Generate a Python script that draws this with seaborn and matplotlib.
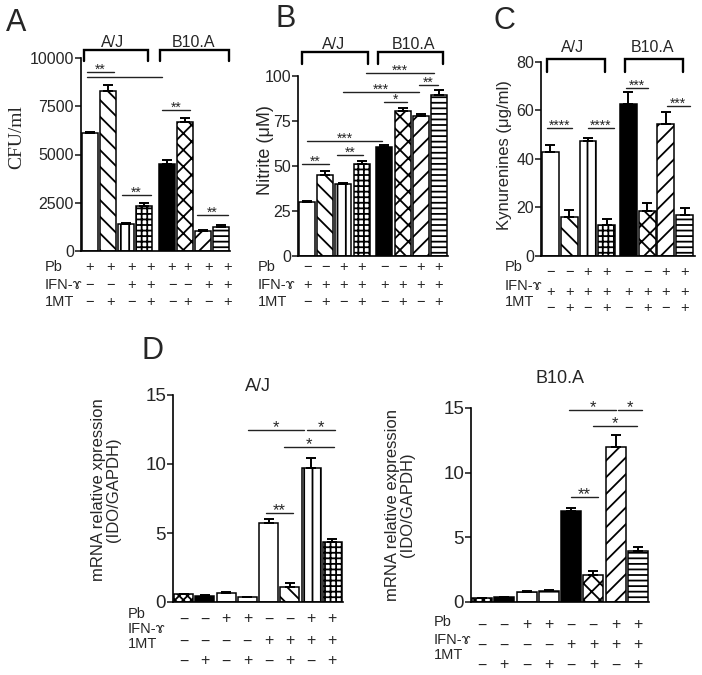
import numpy as np
import pandas as pd
import matplotlib
matplotlib.use('Agg')
import matplotlib.pyplot as plt
import matplotlib.transforms as mtransforms
import seaborn as sns

sns.set_style('ticks')
plt.rcParams['font.family'] = ['Liberation Sans', 'DejaVu Sans']
plt.rcParams['hatch.linewidth'] = 1.3
plt.rcParams['axes.edgecolor'] = 'black'

#%% data
cfu = [6100, 8300, 1400, 2330, 4500, 6680, 1050, 1250]
cfu_err = [60, 300, 50, 150, 200, 200, 60, 80]

nitrite = [30.2, 45, 40, 51, 60.4, 80.5, 77.8, 89.4]
nitrite_err = [0.6, 2, 0.3, 1.8, 1.2, 2, 1.3, 3]

kyn = [43, 16, 47.4, 12.8, 62.5, 18.7, 54.4, 16.9]
kyn_err = [2.8, 3, 1.1, 2.3, 5.3, 3, 5, 2.8]

ido_aj = [0.55, 0.45, 0.65, 0.33, 5.7, 1.1, 9.7, 4.35]
ido_aj_err = [0.05, 0.03, 0.05, 0.05, 0.3, 0.25, 0.7, 0.25]

ido_b10 = [0.28, 0.35, 0.77, 0.85, 7.0, 2.1, 12.0, 3.95]
ido_b10_err = [0.02, 0.03, 0.05, 0.05, 0.27, 0.28, 0.95, 0.3]

# treatment rows under the bars
M = '\u2212'
pb_A = ['+'] * 8
ifn_A = [M, M, '+', '+', M, M, '+', '+']
pb_BC = [M, M, '+', '+'] * 2
ifn_BC = ['+'] * 8
pb_D = [M, M, '+', '+'] * 2
ifn_D = [M] * 4 + ['+'] * 4
mt_all = [M, '+'] * 4
row_names = ['Pb', 'IFN-\u0264', '1MT']

#%% styles
colors_abc = ['white', 'white', 'white', 'white', 'black', 'white', 'white', 'white']
hatch_abc = ['', '\\\\', '||', '+++', '', 'xx', '//', '---']
colors_daj = ['white', 'black', 'white', 'white', 'white', 'white', 'white', 'white']
hatch_daj = ['xxxx', '', '-', '-', '', '\\\\', '||', '+++']
colors_db10 = ['white', 'black', 'white', 'white', 'black', 'white', 'white', 'white']
hatch_db10 = ['xxxx', '', '-', '-', '', 'xx', '//', '---']

W, H = 702, 675
def fx(px):
    return px / W
def fy(py):
    return 1 - py / H

fig = plt.figure(figsize=(7.02, 6.75), dpi=100)

def add_ax(l, t, r, b):
    return fig.add_axes([fx(l), fy(b), fx(r) - fx(l), fy(t) - fy(b)])

def draw_bars(ax, pos, vals, errs, colors, hatches, width):
    df = pd.DataFrame({'pos': pos, 'val': vals})
    sns.barplot(data=df, x='pos', y='val', native_scale=True, width=width,
                color='white', edgecolor='black', linewidth=1.1,
                errorbar=None, ax=ax)
    for p, c, h in zip(ax.patches, colors, hatches):
        p.set_facecolor(c)
        p.set_hatch(h)
        p.set_edgecolor('black')
    ax.errorbar(pos, vals, yerr=[np.zeros(len(errs)), errs], fmt='none',
                ecolor='black', elinewidth=1.4, capsize=3.5, capthick=1.4, zorder=3)

def style(ax, xlim, ylim, yticks, fs):
    ax.set_xlim(*xlim)
    ax.set_ylim(*ylim)
    ax.set_yticks(yticks)
    ax.set_xticks([])
    ax.set_xlabel('')
    ax.set_ylabel('')
    sns.despine(ax=ax)
    for s in ['left', 'bottom']:
        ax.spines[s].set_linewidth(1.2)
    ax.tick_params(axis='y', length=4, width=1.2, labelsize=fs, pad=1)

def sign_rows(ax, xs, rows, ys, fs):
    tr = mtransforms.blended_transform_factory(ax.transData, fig.transFigure)
    for row, py in zip(rows, ys):
        for x, s in zip(xs, row):
            ax.text(x, fy(py), s, transform=tr, ha='center', va='center', fontsize=fs)

def row_labels(px, ys, fs):
    for name, py in zip(row_names, ys):
        fig.text(fx(px), fy(py), name, ha='left', va='center', fontsize=fs)

def bracket(ax, x0, x1, ytop, ybot):
    ax.plot([x0, x0, x1, x1], [ybot, ytop, ytop, ybot], color='black', lw=1.7,
            clip_on=False, solid_joinstyle='miter')

def sig(ax, x0, x1, y, stars, fs=10):
    ax.plot([x0, x1], [y, y], color='#222222', lw=1, clip_on=False)
    if stars:
        ax.annotate(stars, ((x0 + x1) / 2, y), xytext=(0, -1.5), textcoords='offset points',
                    ha='center', va='baseline', fontsize=fs, annotation_clip=False)

#%% Panel A
pos_A = [0, 1, 2, 3, 4.3, 5.3, 6.3, 7.3]
axA = add_ax(81, 58, 230, 251)
draw_bars(axA, pos_A, cfu, cfu_err, colors_abc, hatch_abc, 0.88)
style(axA, (-0.5, 7.8), (0, 10000), [0, 2500, 5000, 7500, 10000], 11.5)
bracket(axA, -0.33, 3.23, 10415, 9845)
bracket(axA, 3.9, 7.75, 10415, 9845)
axA.text(1.25, 10829, 'A/J', ha='center', va='center', fontsize=11.5)
axA.text(5.74, 10829, 'B10.A', ha='center', va='center', fontsize=11.5)
sig(axA, -0.17, 1.34, 9275, '**')
sig(axA, -0.17, 4.01, 9015, '')
sig(axA, 1.78, 3.4, 2900, '**')
sig(axA, 4.01, 5.57, 7305, '**')
sig(axA, 5.96, 7.69, 1865, '**')
sign_rows(axA, [-0.05, 1.12, 2.29, 3.4, 4.57, 5.46, 6.58, 7.69],
          [pb_A, ifn_A, mt_all], [267, 285, 302], 10.5)
row_labels(45, [267, 285, 302], 10.5)
fig.text(fx(17), fy(137), 'CFU/ml', rotation=90, ha='center', va='center',
         fontsize=14, family='Liberation Serif')
fig.text(fx(16), fy(23), 'A', ha='center', va='center', fontsize=22)

#%% Panel B
pos_B = [0, 1, 2, 3, 4.25, 5.25, 6.25, 7.25]
axB = add_ax(298, 76, 448, 256)
draw_bars(axB, pos_B, nitrite, nitrite_err, colors_abc, hatch_abc, 0.88)
style(axB, (-0.5, 7.75), (0, 100), [0, 25, 50, 75, 100], 11.5)
bracket(axB, -0.28, 3.35, 113.3, 106.7)
bracket(axB, 3.9, 7.47, 113.3, 106.7)
axB.text(1.48, 117.5, 'A/J', ha='center', va='center', fontsize=11.5)
axB.text(5.87, 117.5, 'B10.A', ha='center', va='center', fontsize=11.5)
sig(axB, 3.24, 6.97, 101.7, '***')
sig(axB, 6.15, 7.19, 95, '**')
sig(axB, 1.97, 6.15, 91.1, '***')
sig(axB, 4.23, 5.49, 85.6, '*')
sig(axB, 0.0, 4.12, 63.9, '***')
sig(axB, -0.28, 1.2, 51.1, '**')
sig(axB, 1.64, 3.07, 56.1, '**')
sign_rows(axB, pos_B, [pb_BC, ifn_BC, mt_all], [267, 285, 302], 10.5)
row_labels(258, [267, 285, 302], 10.5)
fig.text(fx(265), fy(150), 'Nitrite (\u03bcM)', rotation=90, ha='center', va='center', fontsize=13)
fig.text(fx(286), fy(19), 'B', ha='center', va='center', fontsize=22)

#%% Panel C
pos_C = [0, 1, 2, 3, 4.15, 5.15, 6.15, 7.15]
axC = add_ax(541, 62, 695, 256)
draw_bars(axC, pos_C, kyn, kyn_err, colors_abc, hatch_abc, 0.9)
style(axC, (-0.5, 7.7), (0, 80), [0, 20, 40, 60, 80], 11.5)
bracket(axC, -0.18, 2.9, 81.2, 75.9)
bracket(axC, 3.97, 7.05, 81.2, 75.9)
axC.text(1.2, 85.8, 'A/J', ha='center', va='center', fontsize=11.5)
axC.text(5.46, 85.8, 'B10.A', ha='center', va='center', fontsize=11.5)
sig(axC, -0.18, 1.15, 52.8, '****')
sig(axC, 2.0, 3.38, 52.8, '****')
sig(axC, 4.02, 5.19, 69.3, '***')
sig(axC, 6.2, 7.43, 61.9, '***')
sign_rows(axC, pos_C, [pb_BC, ifn_BC, mt_all], [272, 292, 308], 10.5)
row_labels(505, [267, 286, 302], 10.5)
fig.text(fx(505), fy(155), 'Kynurenines (\u03bcg/ml)', rotation=90, ha='center', va='center', fontsize=12)
fig.text(fx(504), fy(21), 'C', ha='center', va='center', fontsize=22)

#%% Panel D
pos_D = [0, 1, 2, 3, 4, 5, 6, 7]
axD1 = add_ax(173, 395, 343, 602)
draw_bars(axD1, pos_D, ido_aj, ido_aj_err, colors_daj, hatch_daj, 0.9)
style(axD1, (-0.5, 7.5), (0, 15), [0, 5, 10, 15], 13.5)
axD1.set_title('A/J', fontsize=13, pad=3)
sig(axD1, 3.03, 5.66, 12.46, '*', 12)
sig(axD1, 5.8, 7.12, 12.46, '*', 12)
sig(axD1, 4.72, 7.08, 11.23, '*', 12)
sig(axD1, 3.88, 5.15, 6.45, '**', 12)
sign_rows(axD1, pos_D, [pb_D, ifn_D, mt_all], [619, 641, 661], 11.5)
row_labels(128, [614, 629, 644], 10.5)
fig.text(fx(106), fy(490), 'mRNA relative xpression\n(IDO/GAPDH)', rotation=90,
         ha='center', va='center', fontsize=12, linespacing=1.0)
fig.text(fx(152), fy(351), 'D', ha='center', va='center', fontsize=22)

axD2 = add_ax(471, 408, 649, 602)
draw_bars(axD2, pos_D, ido_b10, ido_b10_err, colors_db10, hatch_db10, 0.9)
style(axD2, (-0.5, 7.5), (0, 15), [0, 5, 10, 15], 13.5)
axD2.set_title('B10.A', fontsize=13, pad=18)
sig(axD2, 3.9, 6.02, 14.85, '*', 12)
sig(axD2, 6.11, 7.19, 14.85, '*', 12)
sig(axD2, 4.98, 6.96, 13.6, '*', 12)
sig(axD2, 3.99, 5.21, 8.12, '**', 12)
sign_rows(axD2, pos_D, [pb_D, ifn_D, mt_all], [625, 645, 665], 11.5)
row_labels(434, [622, 640, 655], 10.5)
fig.text(fx(400), fy(505), 'mRNA relative expression\n(IDO/GAPDH)', rotation=90,
         ha='center', va='center', fontsize=12, linespacing=1.0)

fig.savefig('out.png', dpi=100)
